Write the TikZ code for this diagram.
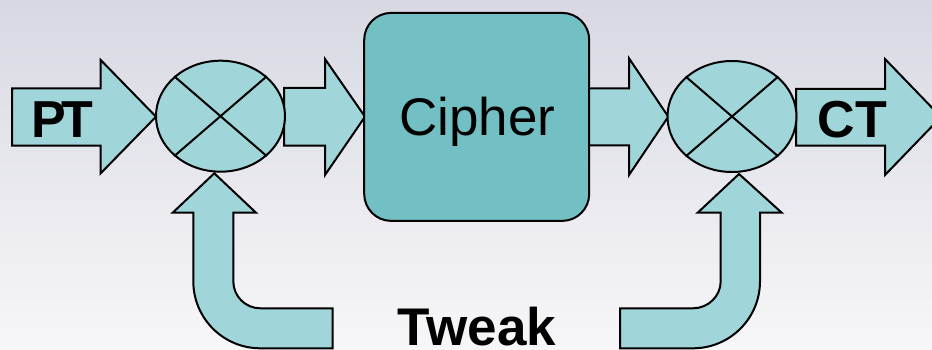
\documentclass[tikz,border=0pt]{standalone}
\usepackage{fontspec}
\setmainfont{Liberation Sans}
\usetikzlibrary{shapes.geometric}
\definecolor{arrowfill}{HTML}{A0D5D9}
\definecolor{cipherfill}{HTML}{72BFC4}
\definecolor{bgtop}{HTML}{D8D8E3}
\definecolor{bgbot}{HTML}{F7F7F9}
\begin{document}
\begin{tikzpicture}[x=1pt,y=-1pt,
  blockarrow/.style={draw=black,line width=2pt,fill=arrowfill,line join=miter},
  xorgate/.style={ellipse,draw=black,line width=2pt,fill=arrowfill,inner sep=0pt,
    minimum width=129pt,minimum height=111pt},
  xorline/.style={draw=black,line width=2pt},
  cipherbox/.style={rectangle,rounded corners=27pt,draw=black,line width=2pt,fill=cipherfill,
    minimum width=225pt,minimum height=208pt,inner sep=0pt},
  boldlabel/.style={anchor=base,inner sep=0pt,font=\fontsize{52}{60}\selectfont\bfseries},
  plainlabel/.style={anchor=base,inner sep=0pt,font=\fontsize{53}{60}\selectfont}]
\useasboundingbox (0,0) rectangle (932,350);
\clip (0,0) rectangle (932,350);
\shade[top color=bgtop,bottom color=bgbot] (0,0) rectangle (932,350);

% block arrows
\path[blockarrow] (12,88.3) -- (100.7,88.3) -- (100.7,60) -- (156,116.7) -- (100.7,173.3) -- (100.7,145.7) -- (12,145.7) -- cycle;
\path[blockarrow] (284,88) -- (325,88) -- (325,59) -- (365,116.7) -- (325,175) -- (325,145.7) -- (284,145.7) -- cycle;
\path[blockarrow] (585,88.3) -- (629,88.3) -- (629,58.3) -- (668.3,116.7) -- (629,175) -- (629,145.3) -- (585,145.3) -- cycle;
\path[blockarrow] (796,89) -- (885,89) -- (885,59) -- (941,117) -- (885,175) -- (885,145.7) -- (796,145.7) -- cycle;

% tweak arrows
\path[blockarrow] (214.3,173.3) -- (256,212.7) -- (233.3,212.7) -- (233.3,281.3)
  .. controls (233.3,296.2) and (245.4,308.3) .. (260.3,308.3) -- (332.7,308.3) -- (332.7,348.3) -- (260.3,348.3)
  .. controls (223.3,348.3) and (193.3,318.3) .. (193.3,281.3) -- (193.3,212.7) -- (172.7,212.7) -- cycle;
\path[blockarrow] (739,174) -- (781.7,212.7) -- (760,212.7) -- (760,281.3)
  .. controls (760,318.3) and (730,348.3) .. (693,348.3) -- (620,348.3) -- (620,308.3) -- (693,308.3)
  .. controls (708.3,308.3) and (720.7,296) .. (720.7,281.3) -- (720.7,212.7) -- (697.7,212.7) -- cycle;

% xor gates
\node[xorgate] (xa) at (220.5,116.2) {};
\node[xorgate] (xb) at (732,116.5) {};
\foreach \g in {xa,xb}{
  \draw[xorline] (\g.north east) -- (\g.south west);
  \draw[xorline] (\g.north west) -- (\g.south east);
}

% cipher
\node[cipherbox] (ciph) at (476.7,116.9) {};
\node[plainlabel] (ciphlab) at (477.5,136) {Cipher};

% labels
\node[boldlabel] (pt) at (62.5,137.3) {P\kern-5pt T};
\node[boldlabel] (ct) at (852.5,137.3) {CT};
\node[boldlabel,font=\fontsize{53}{60}\selectfont\bfseries] (tw) at (477,345.5) {Tweak};
\end{tikzpicture}
\end{document}
